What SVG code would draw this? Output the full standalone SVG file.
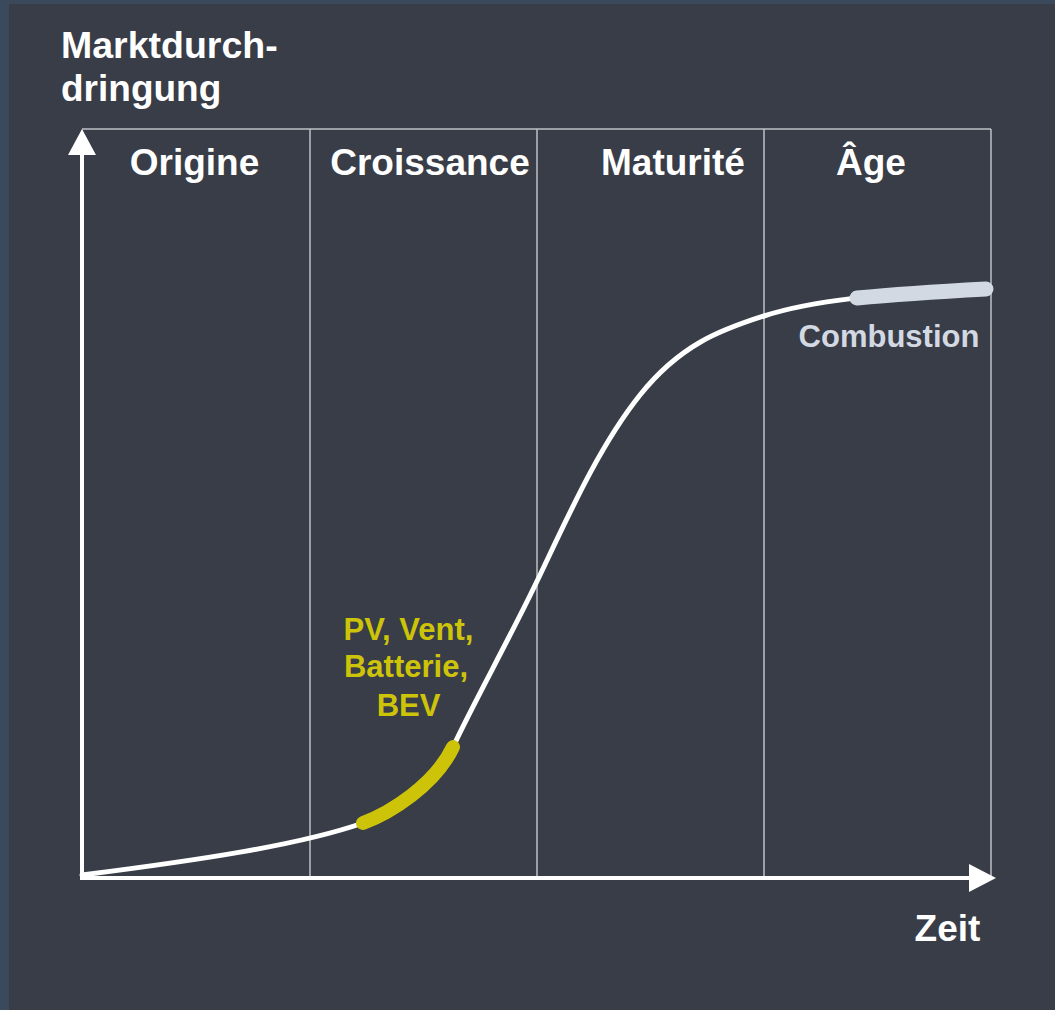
<svg xmlns="http://www.w3.org/2000/svg" width="1055" height="1010" viewBox="0 0 1055 1010">
  <style>
    .t { font-family: "Liberation Sans", Arial, sans-serif; font-weight: bold; }
    .w { fill: #ffffff; }
    .grid { stroke: #bfc1c6; stroke-width: 1.5; fill: none; }
    .axis { stroke: #ffffff; stroke-width: 4; fill: none; }
  </style>
  <rect x="0" y="0" width="1055" height="1010" fill="#3b495d"/>
  <rect x="9" y="4" width="1046" height="1006" fill="#383d47"/>

  <g id="grid">
    <line class="grid" x1="82" y1="129" x2="991" y2="129"/>
    <line class="grid" x1="310" y1="129" x2="310" y2="877"/>
    <line class="grid" x1="537" y1="129" x2="537" y2="877"/>
    <line class="grid" x1="764" y1="129" x2="764" y2="877"/>
    <line class="grid" x1="991" y1="129" x2="991" y2="877"/>
  </g>

  <g id="axes">
    <line class="axis" x1="82" y1="878" x2="82" y2="150"/>
    <polygon class="w" points="82,129 68,155 96,155"/>
    <line class="axis" x1="80" y1="878" x2="972" y2="878"/>
    <polygon class="w" points="996,878 969,864 969,892"/>
  </g>

  <g id="curve">
    <path d="M82,875 C200,860 300,845 363,823 C390,813 435,785 453,747 C475,700 510,638 540,575 C570,512 600,445 640,395 C680,345 720,330 764,316 C810,301 880,293 990,289" fill="none" stroke="#ffffff" stroke-width="5" stroke-linecap="round"/>
  </g>

  <g id="highlight-new">
    <path d="M363,823 C390,813 435,785 453,747" fill="none" stroke="#cdc40a" stroke-width="14" stroke-linecap="round"/>
  </g>
  <g id="highlight-old">
    <path d="M857,298 C900,294 950,291 986,289" fill="none" stroke="#d3d9e2" stroke-width="15" stroke-linecap="round"/>
  </g>

  <g id="labels">
    <text class="t w" x="61" y="58" font-size="37.5">Marktdurch-</text>
    <text class="t w" x="61" y="101" font-size="37">dringung</text>
    <text class="t w" x="194.5" y="175" font-size="37" text-anchor="middle">Origine</text>
    <text class="t w" x="430" y="175" font-size="37" text-anchor="middle">Croissance</text>
    <text class="t w" x="673" y="175" font-size="37" text-anchor="middle">Maturité</text>
    <text class="t w" x="871" y="175" font-size="37" text-anchor="middle">Âge</text>
    <text class="t w" x="947.5" y="941" font-size="37" text-anchor="middle">Zeit</text>
    <text class="t" x="889" y="347" font-size="31" text-anchor="middle" fill="#d3d9e2">Combustion</text>
    <g fill="#cdc40a" font-size="31" text-anchor="middle">
      <text class="t" x="408.5" y="640">PV, Vent,</text>
      <text class="t" x="406" y="677">Batterie,</text>
      <text class="t" x="408.5" y="716">BEV</text>
    </g>
  </g>
</svg>
